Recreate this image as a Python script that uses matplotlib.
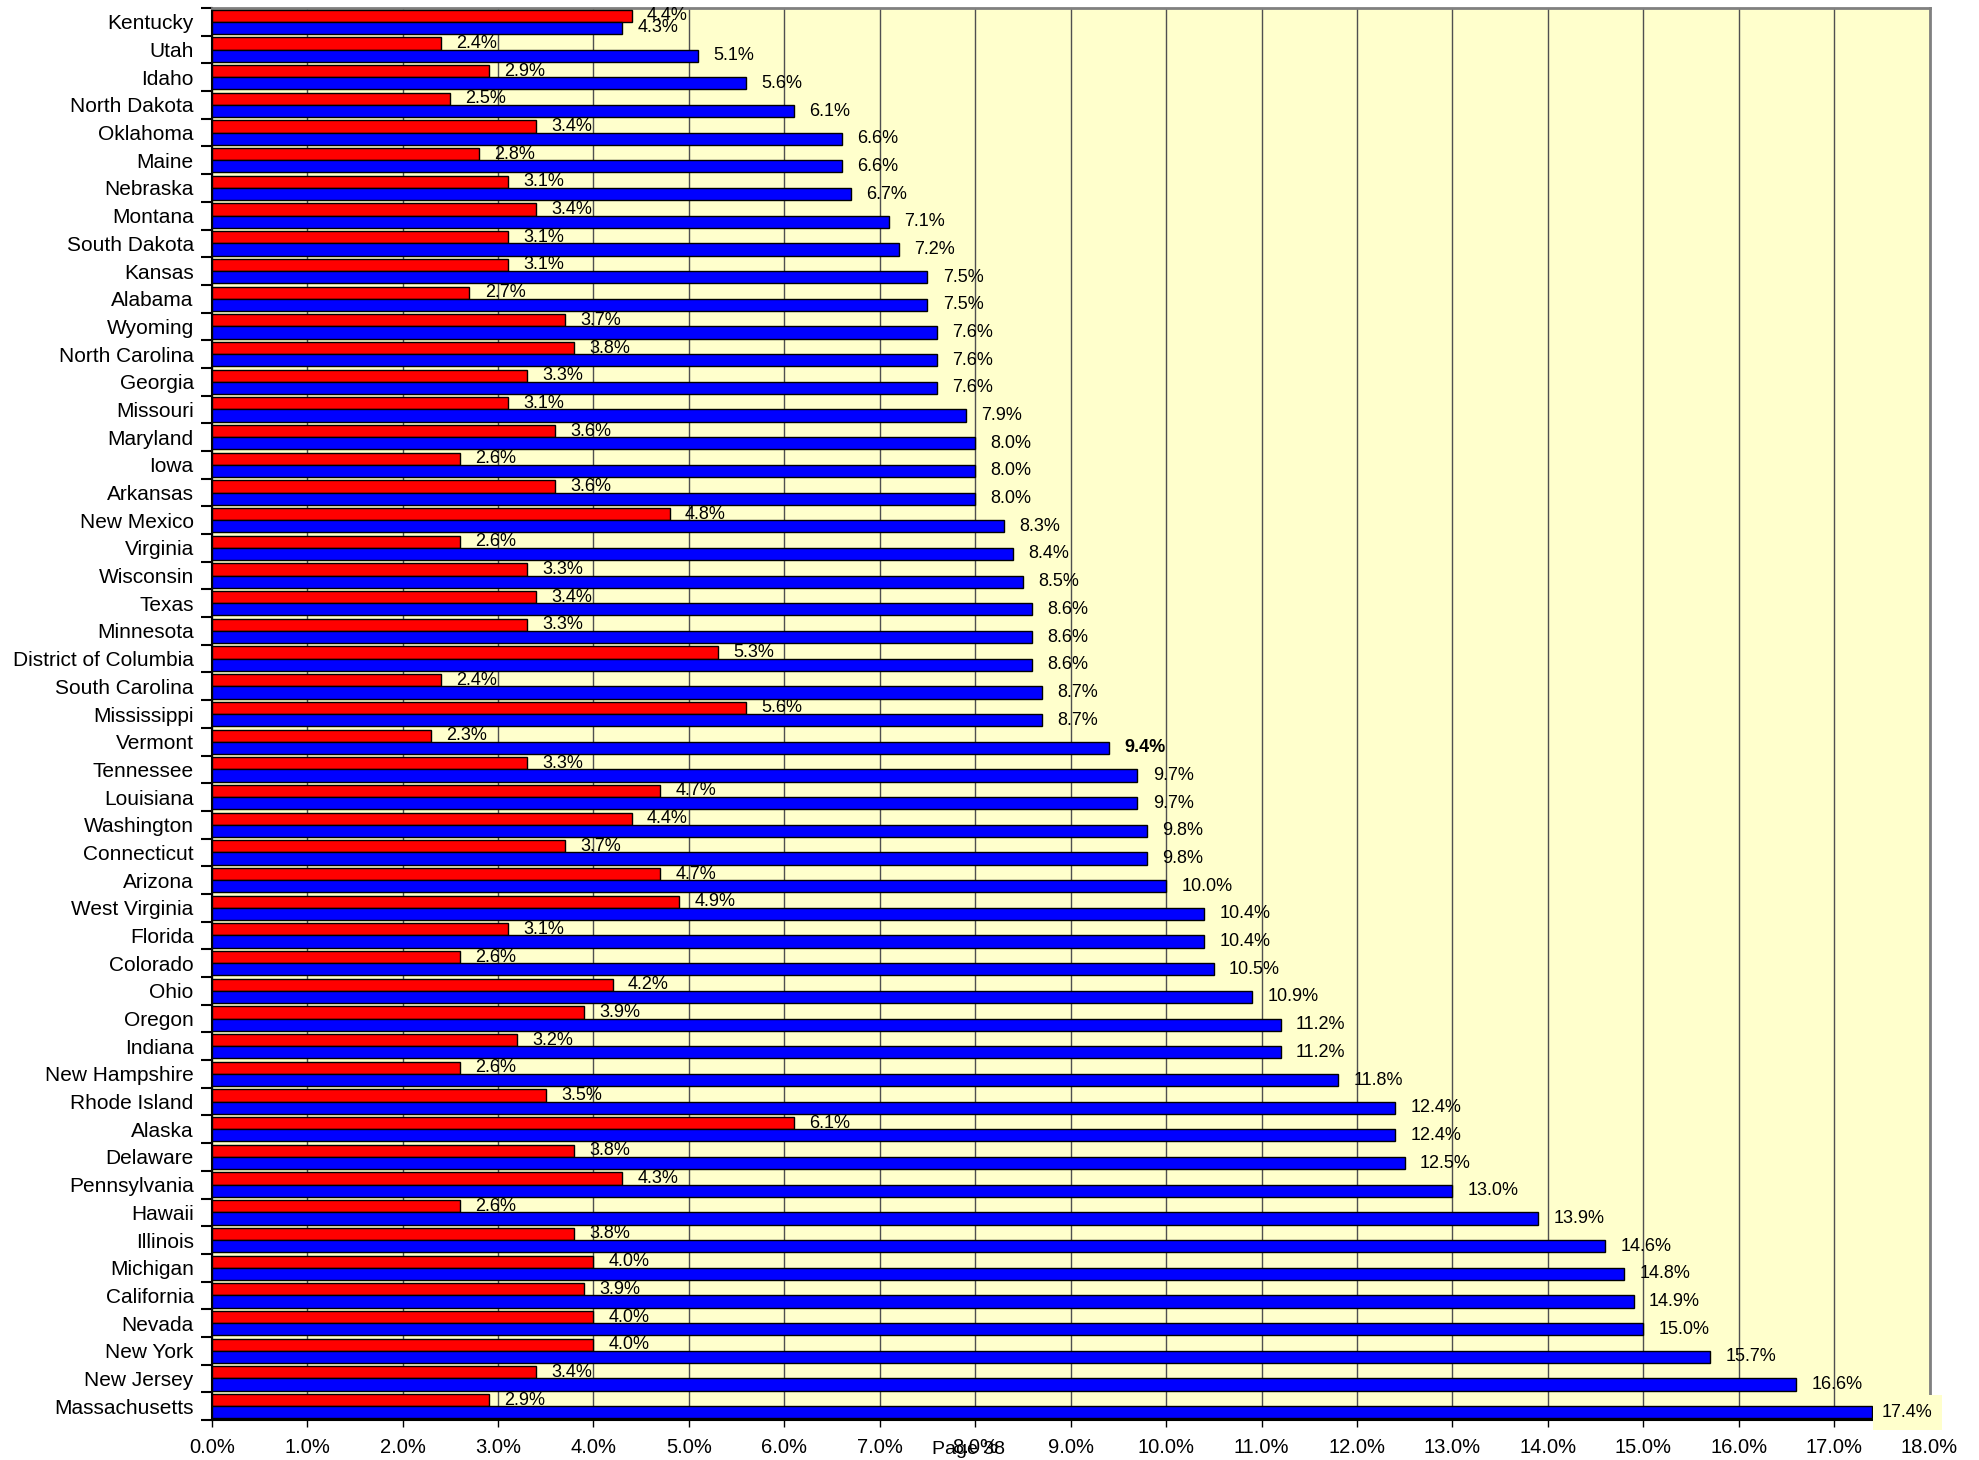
import numpy as np
import matplotlib
matplotlib.use('Agg')
import matplotlib.pyplot as plt

plt.rcParams['font.family'] = ['Liberation Sans', 'DejaVu Sans']

states = ['Kentucky', 'Utah', 'Idaho', 'North Dakota', 'Oklahoma', 'Maine',
          'Nebraska', 'Montana', 'South Dakota', 'Kansas', 'Alabama', 'Wyoming',
          'North Carolina', 'Georgia', 'Missouri', 'Maryland', 'Iowa', 'Arkansas',
          'New Mexico', 'Virginia', 'Wisconsin', 'Texas', 'Minnesota',
          'District of Columbia', 'South Carolina', 'Mississippi', 'Vermont',
          'Tennessee', 'Louisiana', 'Washington', 'Connecticut', 'Arizona',
          'West Virginia', 'Florida', 'Colorado', 'Ohio', 'Oregon', 'Indiana',
          'New Hampshire', 'Rhode Island', 'Alaska', 'Delaware', 'Pennsylvania',
          'Hawaii', 'Illinois', 'Michigan', 'California', 'Nevada', 'New York',
          'New Jersey', 'Massachusetts']

red_vals = [4.4, 2.4, 2.9, 2.5, 3.4, 2.8, 3.1, 3.4, 3.1, 3.1, 2.7, 3.7,
            3.8, 3.3, 3.1, 3.6, 2.6, 3.6, 4.8, 2.6, 3.3, 3.4, 3.3, 5.3,
            2.4, 5.6, 2.3, 3.3, 4.7, 4.4, 3.7, 4.7, 4.9, 3.1, 2.6, 4.2,
            3.9, 3.2, 2.6, 3.5, 6.1, 3.8, 4.3, 2.6, 3.8, 4.0, 3.9, 4.0,
            4.0, 3.4, 2.9]

blue_vals = [4.3, 5.1, 5.6, 6.1, 6.6, 6.6, 6.7, 7.1, 7.2, 7.5, 7.5, 7.6,
             7.6, 7.6, 7.9, 8.0, 8.0, 8.0, 8.3, 8.4, 8.5, 8.6, 8.6, 8.6,
             8.7, 8.7, 9.4, 9.7, 9.7, 9.8, 9.8, 10.0, 10.4, 10.4, 10.5, 10.9,
             11.2, 11.2, 11.8, 12.4, 12.4, 12.5, 13.0, 13.9, 14.6, 14.8, 14.9, 15.0,
             15.7, 16.6, 17.4]

bold_state = 'Vermont'

ind = np.arange(len(states))
h = 0.44
lab_fs = 13

fig = plt.figure(figsize=(19.79, 14.6), dpi=100)
ax = fig.add_axes([0.107, 0.0274, 0.868, 0.9671])
ax.set_facecolor('#FFFFCC')

ax.barh(ind - h / 2, red_vals, h, color='#FF0000', edgecolor='black', linewidth=1, zorder=3)
ax.barh(ind + h / 2, blue_vals, h, color='#0000FF', edgecolor='black', linewidth=1, zorder=3)

for i, (r, b) in enumerate(zip(red_vals, blue_vals)):
    ax.annotate('%.1f%%' % r, (r, i - h / 2), xytext=(11, 0), textcoords='offset points',
                va='center', ha='left', fontsize=lab_fs, zorder=4)
    kw = {}
    if states[i] == bold_state:
        kw['fontweight'] = 'bold'
    if b == max(blue_vals):
        # this one sticks out of the plot area, with its yellow label box
        kw['bbox'] = dict(boxstyle='square,pad=0.5', fc='#FFFFCC', ec='none')
        ax.annotate('%.1f%%' % b, (b, i + h / 2), xytext=(7, 0), textcoords='offset points',
                    va='center', ha='left', fontsize=lab_fs, zorder=4, annotation_clip=False, **kw)
    else:
        ax.annotate('%.1f%%' % b, (b, i + h / 2), xytext=(11, 0), textcoords='offset points',
                    va='center', ha='left', fontsize=lab_fs, zorder=4, **kw)

ax.set_xlim(0, 18)
ax.set_ylim(len(states) - 0.5, -0.5)

ax.set_xticks(np.arange(0, 19, 1))
ax.set_xticklabels(['%.1f%%' % v for v in np.arange(0, 19, 1)], fontsize=14.5)
ax.xaxis.grid(True, color='#505050', linewidth=1, zorder=1)
ax.set_axisbelow(True)

ax.set_yticks(ind)
ax.set_yticklabels(states, fontsize=15)
ax.set_yticks(np.arange(-0.5, len(states), 1), minor=True)
ax.tick_params(axis='y', which='major', length=0, pad=13)
ax.tick_params(axis='y', which='minor', length=8, width=1.5, direction='out')
ax.tick_params(axis='x', length=5, width=1, direction='out', pad=8)

for s in ['left', 'bottom']:
    ax.spines[s].set_linewidth(1.5)
    ax.spines[s].set_color('black')
ax.spines['right'].set_color('#808080')
ax.spines['right'].set_linewidth(2)
ax.spines['top'].set_color('#808080')
ax.spines['top'].set_linewidth(2)

fig.text(969 / 1979, 1 - 1449 / 1460, 'Page 38', ha='center', va='center', fontsize=14)

fig.savefig('out.png', dpi=100, facecolor='white')
